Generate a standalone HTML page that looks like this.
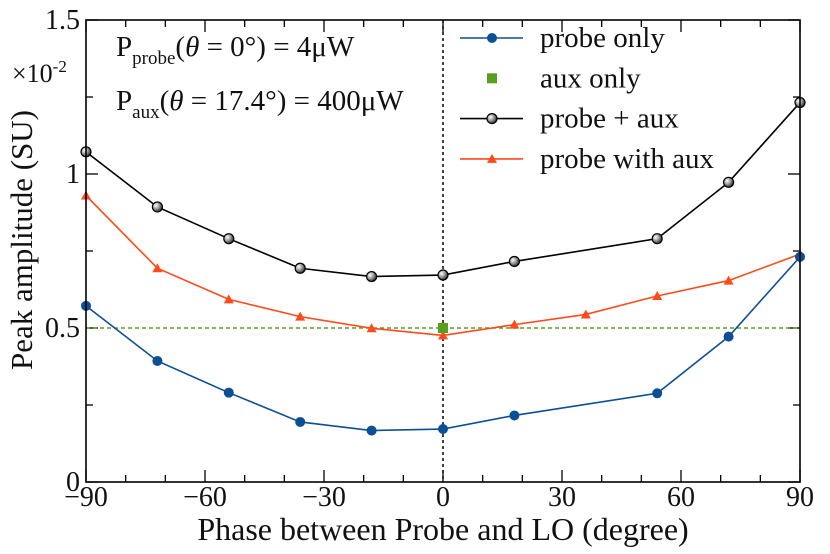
<!DOCTYPE html>
<html><head><meta charset="utf-8"><style>
body{margin:0;background:#fff}
svg text{font-family:"Liberation Serif","DejaVu Serif",serif;fill:#111}
</style></head><body>
<svg id="c" width="830" height="549" viewBox="0 0 830 549"></svg>
<script>
const phases=[-90,-72,-54,-36,-18,0,18,54,72,90];
const probeOnly=[0.572,0.393,0.290,0.195,0.167,0.172,0.216,0.288,0.472,0.731];
const probePlusAux=[1.072,0.893,0.790,0.694,0.667,0.672,0.716,0.790,0.973,1.232];
const phasesWith=[-90,-72,-54,-36,-18,0,18,36,54,72,90];
const probeWithAux=[0.930,0.694,0.593,0.537,0.499,0.476,0.511,0.544,0.604,0.654,0.740];
const auxOnlyX=[0];const auxOnlyY=[0.5];
const xTicks=[-90,-60,-30,0,30,60,90];
const xTickLabels=["\u221290","\u221260","\u221230","0","30","60","90"];
const yTicks=[0,0.5,1,1.5];
const yTickLabels=["0","0.5","1","1.5"];
const L=86,R=800,T=20,B=482;
const X=v=>L+(v+90)/180*(R-L);
const Y=v=>B-v/1.5*(B-T);
const svg=document.getElementById('c');
const NS='http://www.w3.org/2000/svg';
function mk(tag,attrs,parent){const e=document.createElementNS(NS,tag);for(const k in attrs)e.setAttribute(k,attrs[k]);(parent||svg).appendChild(e);return e;}
const defs=mk('defs',{});
const g=mk('radialGradient',{id:'ball',cx:'0.35',cy:'0.35',r:'0.7'},defs);
mk('stop',{offset:'0','stop-color':'#fff'},g);mk('stop',{offset:'0.5','stop-color':'#999'},g);mk('stop',{offset:'1','stop-color':'#222'},g);
const ticks=mk('g',{stroke:'#000','stroke-width':1.3});


for(let v=-90;v<=90;v+=10){const maj=v%30===0;const l=maj?12:7;
mk('line',{x1:X(v),x2:X(v),y1:B,y2:B-l},ticks);mk('line',{x1:X(v),x2:X(v),y1:T,y2:T+l},ticks);}
for(let v=0;v<=1.5;v+=0.25){const maj=Math.abs(v*2-Math.round(v*2))<1e-6;const l=maj?12:7;
mk('line',{x1:L,x2:L+l,y1:Y(v),y2:Y(v)},ticks);mk('line',{x1:R,x2:R-l,y1:Y(v),y2:Y(v)},ticks);}
xTicks.forEach((v,i)=>{const t=mk('text',{x:X(v),y:506,'text-anchor':'middle','font-size':28});t.textContent=xTickLabels[i];
});
yTicks.forEach((v,i)=>{const t=mk('text',{x:80,y:Y(v)+9,'text-anchor':'end','font-size':28});t.textContent=yTickLabels[i];
});
const hl=mk('line',{x1:L,x2:R,y1:Y(0.5),y2:Y(0.5),stroke:'#5a9e1e','stroke-width':1.6,'stroke-dasharray':'4,3'});

const vl=mk('line',{x1:X(0),x2:X(0),y1:T,y2:B,stroke:'#111','stroke-width':1.6,'stroke-dasharray':'3,3'});

function series(xs,ys,color,marker,name){
const grp=mk('g',{});

mk('polyline',{points:xs.map((x,i)=>X(x)+','+Y(ys[i])).join(' '),fill:'none',stroke:color,'stroke-width':1.6},grp);
xs.forEach((x,i)=>drawMarker(grp,X(x),Y(ys[i]),marker,color));}
function drawMarker(p,cx,cy,m,color){
if(m==='dot')mk('circle',{cx,cy,r:5,fill:color},p);
else if(m==='ball')mk('circle',{cx,cy,r:5,fill:'url(#ball)',stroke:'#000','stroke-width':1.2},p);
else if(m==='tri')mk('polygon',{points:`${cx},${cy-5} ${cx-5},${cy+4} ${cx+5},${cy+4}`,fill:color},p);
else if(m==='sq')mk('rect',{x:cx-5,y:cy-5,width:10,height:10,fill:color},p);}
series(phases,probePlusAux,'#000','ball','series-probe-plus-aux');
series(phasesWith,probeWithAux,'#ff4a1c','tri','series-probe-with-aux');
series(phases,probeOnly,'#0d4f94','dot','series-probe-only');
const ag=mk('g',{});
auxOnlyX.forEach((x,i)=>drawMarker(ag,X(x),Y(auxOnlyY[i]),'sq','#5a9e1e'));
const fr=mk('rect',{x:L,y:T,width:R-L,height:B-T,fill:'none',stroke:'#000','stroke-width':1.6});

const lg=mk('g',{});
[['probe only','#0d4f94','dot',true],['aux only','#5a9e1e','sq',false],['probe + aux','#000','ball',true],['probe with aux','#ff4a1c','tri',true]].forEach((e,i)=>{
const y=38+i*40.3;const eg=mk('g',{},lg);

if(e[3])mk('line',{x1:460,x2:523,y1:y,y2:y,stroke:e[1],'stroke-width':1.6},eg);
drawMarker(eg,492,y,e[2],e[1]);
const t=mk('text',{x:540,y:y+9,'font-size':29},eg);t.textContent=e[0];});
</script>
<svg width="830" height="549" style="position:absolute;left:0;top:0">
<text x="116" y="56" font-size="29">P<tspan font-size="19" dy="8">probe</tspan><tspan dy="-8">(</tspan><tspan font-style="italic">θ</tspan> = 0°) = 4μW</text>
<text x="116" y="110" font-size="29">P<tspan font-size="19" dy="8">aux</tspan><tspan dy="-8">(</tspan><tspan font-style="italic">θ</tspan> = 17.4°) = 400μW</text>
<text x="12" y="82" font-size="26">×10<tspan font-size="17" dy="-10">-2</tspan></text>
<text x="443" y="540" font-size="32" text-anchor="middle">Phase between Probe and LO (degree)</text>
<text transform="translate(32,240) rotate(-90)" font-size="31" text-anchor="middle">Peak amplitude (SU)</text>
</svg>
</body></html>
